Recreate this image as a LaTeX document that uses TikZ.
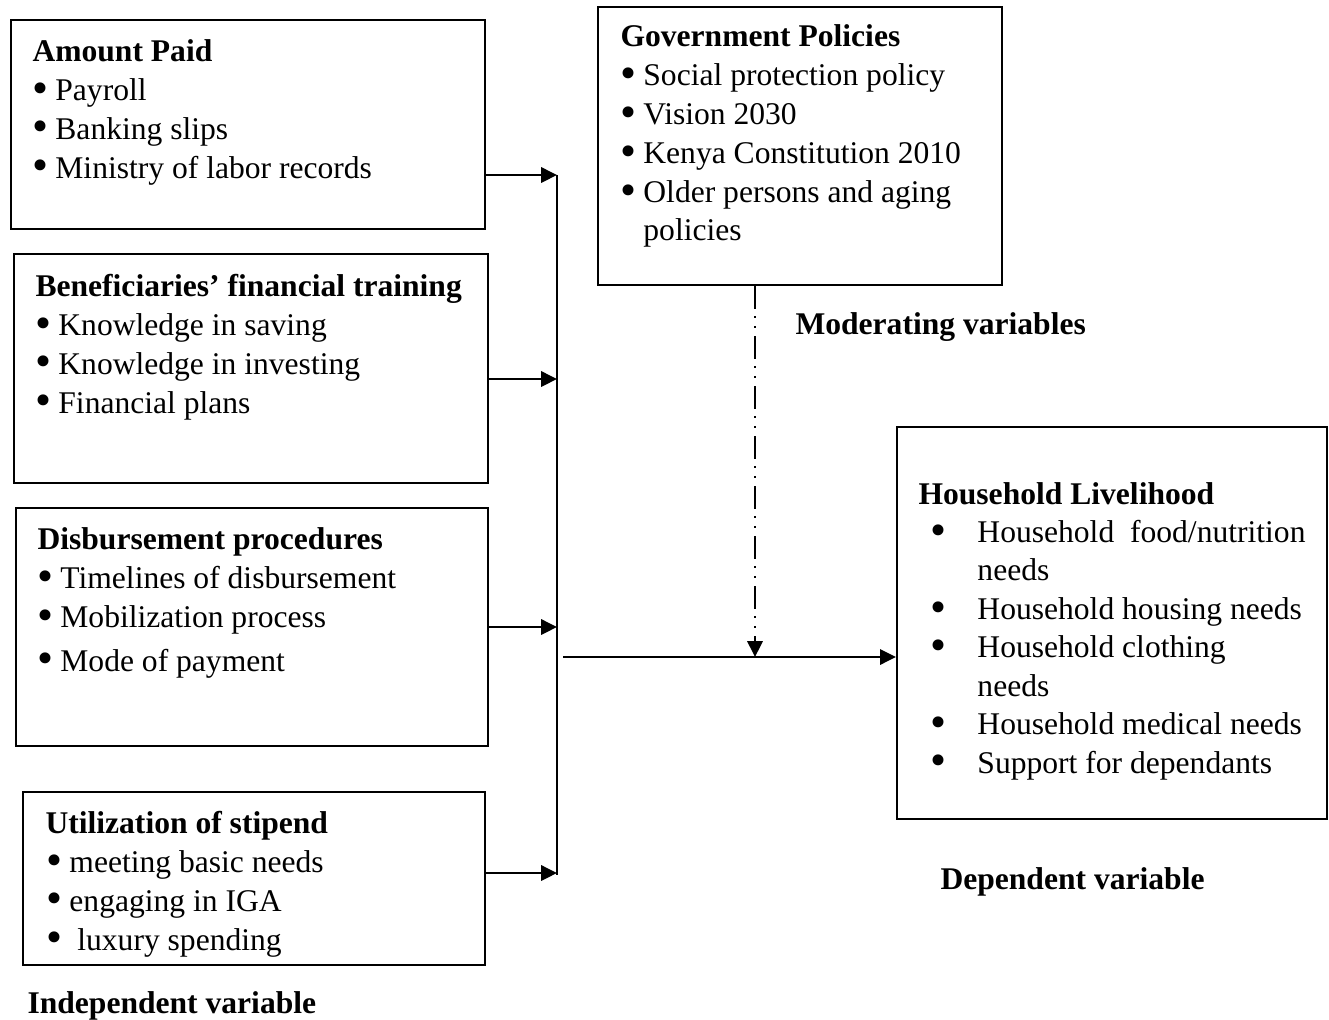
\documentclass[tikz,border=0pt]{standalone}
\usepackage{fontspec}
\setmainfont{Liberation Serif}
\usetikzlibrary{arrows.meta,fit}
\tikzset{
  box/.style={draw, line width=0.8pt, inner sep=0pt},
  txt/.style={anchor=base west, align=left, inner sep=0pt, font=\fontsize{12}{14.8}\selectfont},
  lbl/.style={anchor=base west, inner sep=0pt, font=\fontsize{12}{14.8}\selectfont\bfseries},
  arr/.style={line width=0.8pt, -{Triangle[length=6pt,width=5.8pt]}},
  modline/.style={line width=0.8pt, dash pattern=on 8.7pt off 2.7pt on 0.8pt off 3pt on 0.8pt off 3pt,
    -{Triangle[length=6pt,width=5.8pt]}}
}
\newcommand{\bul}{\raisebox{-1.1pt}{\scalebox{1.45}{\textbullet}}}
\newcommand{\itm}[1][8.7pt]{\makebox[#1][l]{\bul}}
\newcommand{\hitm}{\hspace*{4.6pt}\makebox[17.8pt][l]{\bul}}
\begin{document}
\begin{tikzpicture}[x=0.38pt, y=-0.38pt]
  \useasboundingbox (0,0) rectangle (1329,1019);
  % boxes
  \node[box, fit={(11,20) (485,229)}] (amount) {};
  \node[box, fit={(14,254) (488,483)}] (training) {};
  \node[box, fit={(16,508) (488,746)}] (disburse) {};
  \node[box, fit={(23,792) (485,965)}] (stipend) {};
  \node[box, fit={(598,7) (1002,285)}] (policy) {};
  \node[box, fit={(897,427) (1327,819)}] (livelihood) {};
  % box texts (placed at the baseline of their last line)
  \node[txt] (amounttxt) at (32,178) {\textbf{Amount Paid}\\
    \itm Payroll\\ \itm Banking slips\\ \itm Ministry of labor records};
  \node[txt] (trainingtxt) at (35,413) {\textbf{Beneficiaries’ financial training}\\
    \itm Knowledge in saving\\ \itm Knowledge in investing\\ \itm Financial plans};
  \node[txt] (disbursetxt) at (37,671) {\textbf{Disbursement procedures}\\
    \itm Timelines of disbursement\\ \itm Mobilization process\\[1.6pt] \itm Mode of payment};
  \node[txt] (stipendtxt) at (45,950) {\textbf{Utilization of stipend}\\
    \hspace*{0.4pt}\itm meeting basic needs\\ \hspace*{0.4pt}\itm engaging in IGA\\
    \hspace*{0.4pt}\itm\ luxury spending};
  \node[txt] (policytxt) at (620,240) {\textbf{Government Policies}\\
    \itm Social protection policy\\ \itm Vision 2030\\ \itm Kenya Constitution 2010\\
    \itm Older persons and aging\\[-0.6pt] \hspace*{8.7pt}policies};
  \node[txt, font=\fontsize{12}{14.6}\selectfont] (livelihoodtxt) at (918,773) {\textbf{Household Livelihood}\\
    \hitm Household\ \ food/nutrition\\ \hspace*{22.4pt}needs\\
    \hitm Household housing needs\\ \hitm Household clothing\\ \hspace*{22.4pt}needs\\
    \hitm Household medical needs\\ \hitm Support for dependants};
  % labels
  \node[lbl] (modlbl) at (795,334) {Moderating variables};
  \node[lbl] (deplbl) at (940,889) {Dependent variable};
  \node[lbl] (indlbl) at (27,1013) {Independent variable};
  % connectors
  \coordinate (bustop) at (557,175);
  \coordinate (busB) at (557,379);
  \coordinate (busC) at (557,627);
  \coordinate (busD) at (557,873);
  \coordinate (busbot) at (557,875);
  \coordinate (join) at (563,657);
  \coordinate (meet) at (755,657);
  \draw[line width=0.8pt] (bustop) -- (busbot);
  \draw[arr] (amount.east |- bustop) -- (bustop);
  \draw[arr] (training.east |- busB) -- (busB);
  \draw[arr] (disburse.east |- busC) -- (busC);
  \draw[arr] (stipend.east |- busD) -- (busD);
  \draw[arr] (join) -- (livelihood.west |- join);
  \draw[modline] (policy.south -| meet) -- (meet);
\end{tikzpicture}
\end{document}
